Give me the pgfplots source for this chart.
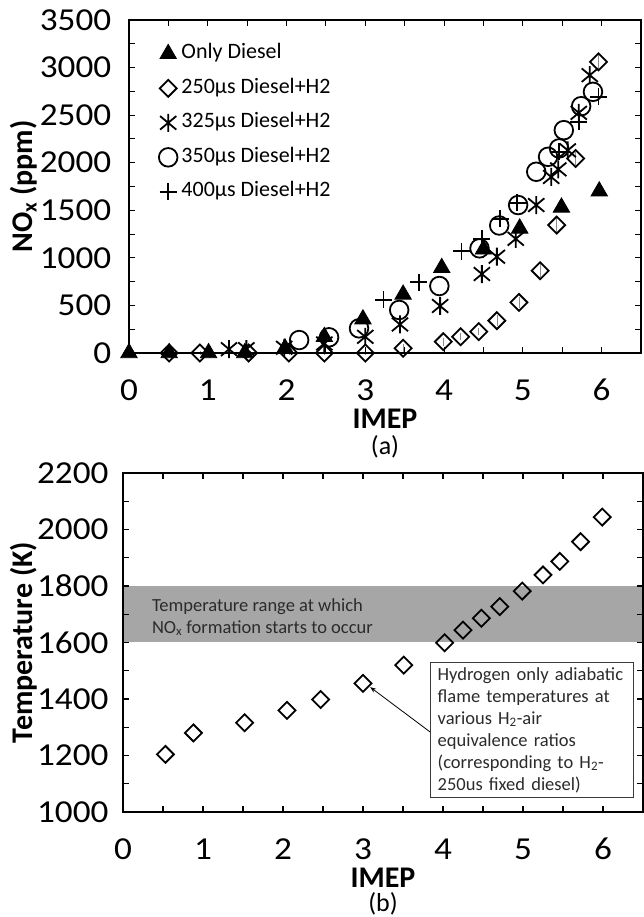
\documentclass[border=0pt]{standalone}
\usepackage{fontspec}
\setmainfont{Carlito}
\usepackage{pgfplots}
\pgfplotsset{compat=1.18}
\usetikzlibrary{arrows.meta}

\definecolor{bandgray}{HTML}{A6A6A6}
\definecolor{ebargray}{HTML}{8C8C8C}
\definecolor{notegray}{HTML}{2B2B2B}
\definecolor{boxgray}{HTML}{3A3A3A}

\newcommand\tickfont{\fontsize{32}{34}\selectfont}
\newcommand\labfont{\fontsize{30}{32}\selectfont\bfseries}
\newcommand\capfont{\fontsize{26}{28}\selectfont}
\newcommand\legfont{\fontsize{22}{24}\selectfont}
\newcommand\notefont{\fontsize{18.5}{22}\selectfont}

% six-armed asterisk: vertical bar plus an X
\pgfdeclareplotmark{astx}{%
  \pgfpathmoveto{\pgfqpoint{0pt}{\pgfplotmarksize}}%
  \pgfpathlineto{\pgfqpoint{0pt}{-\pgfplotmarksize}}%
  \pgfpathmoveto{\pgfqpoint{-0.9\pgfplotmarksize}{0.75\pgfplotmarksize}}%
  \pgfpathlineto{\pgfqpoint{0.9\pgfplotmarksize}{-0.75\pgfplotmarksize}}%
  \pgfpathmoveto{\pgfqpoint{-0.9\pgfplotmarksize}{-0.75\pgfplotmarksize}}%
  \pgfpathlineto{\pgfqpoint{0.9\pgfplotmarksize}{0.75\pgfplotmarksize}}%
  \pgfusepathqstroke}

\pgfplotsset{
  panel/.style={
    scale only axis, clip=false, axis on top,
    axis line style={line width=1.3pt},
    tick style={line width=1.1pt, black},
    tick align=inside, tick pos=both,
    xticklabel pos=lower, yticklabel pos=left,
    major tick length=6pt, minor tick length=6pt,
    xmin=0, xmax=6.5, xtick={0,...,6}, minor x tick num=1,
    minor y tick num=1,
    ticklabel style={font=\tickfont, xscale=1.1},
    /pgf/number format/assume math mode=true,
    /pgf/number format/1000 sep={},
    xticklabel style={anchor=center, inner sep=0pt, yshift=-37pt},
  },
  od/.style={only marks, mark=triangle*, mark size=9.5pt,
    mark options={fill=black, draw=black, line width=0.8pt}},
  d250/.style={only marks, mark=square, mark size=6pt,
    mark options={rotate=45, line width=1.8pt, draw=black, fill=none}},
  a325/.style={only marks, mark=astx, mark size=9pt,
    mark options={line width=1.8pt, draw=black}},
  c350/.style={only marks, mark=o, mark size=9.3pt,
    mark options={line width=1.8pt, draw=black}},
  p400/.style={only marks, mark=+, mark size=8.5pt,
    mark options={line width=1.8pt, draw=black}},
}

\begin{document}
\begin{tikzpicture}
\useasboundingbox (0pt,0pt) rectangle (644pt,917pt);

% ---------------- (a) NOx vs IMEP ----------------
\begin{axis}[panel,
  at={(129pt,564pt)}, anchor=south west,
  width=512pt, height=333pt,
  ymin=0, ymax=3500, ytick={0,500,...,3500},
  yticklabel style={anchor=east, inner sep=0pt, xshift=-16pt},
  legend style={at={(axis description cs:0.058,0.935)}, anchor=north west,
    draw=none, fill=none, font=\legfont, inner sep=0pt, row sep=10.5pt,
    column sep=2pt, nodes={inner sep=2pt, text height=15pt, text depth=5pt}},
  legend cell align=left,
  legend image code/.code={\draw[mark repeat=2,mark phase=2,#1]
    plot coordinates {(-9pt,0pt) (0pt,0pt) (9pt,0pt)};},
]
\addplot[od] coordinates {
  (0,0) (0.51,0) (1.01,0) (1.47,0) (1.98,50) (2.48,170) (2.97,355)
  (3.48,615) (3.97,895) (4.50,1090) (4.96,1310) (5.49,1530) (5.97,1700)};
\addlegendentry{Only Diesel}

\addplot[d250, error bars/.cd, y dir=both, y explicit,
  error bar style={ebargray, line width=0.6pt},
  error mark options={ebargray, mark size=2pt, line width=0.6pt}]
  table[x=x, y=y, y error=e] {
  x     y     e
  0.51  0     0
  0.90  0     0
  1.52  0     0
  2.03  0     0
  2.48  0     0
  3.00  0     0
  3.48  49    25
  3.99  119   20
  4.21  171   15
  4.44  224   15
  4.67  340   35
  4.95  532   40
  5.22  865   45
  5.43  1345  55
  5.67  2045  50
  5.96  3060  60
};
\addlegendentry{250µs Diesel+H2}

\addplot[a325] coordinates {
  (1.27,40) (1.49,40) (1.97,55) (2.48,100) (3.00,170) (3.44,300)
  (3.95,494) (4.48,830) (4.67,1012) (4.91,1200) (5.17,1555)
  (5.36,1850) (5.45,1930) (5.57,2130) (5.71,2524) (5.85,2920)};
\addlegendentry{325µs Diesel+H2}

\addplot[c350] coordinates {
  (2.16,136) (2.54,165) (2.92,259) (3.43,452) (3.94,704) (4.45,1100)
  (4.70,1340) (4.94,1555) (5.17,1905) (5.32,2062) (5.46,2150)
  (5.52,2342) (5.74,2594) (5.89,2745)};
\addlegendentry{350µs Diesel+H2}

\addplot[p400] coordinates {
  (3.23,560) (3.68,745) (4.22,1070) (4.48,1200) (4.71,1410)
  (4.93,1580) (5.46,2115) (5.71,2430) (5.96,2692)};
\addlegendentry{400µs Diesel+H2}

\node[font=\labfont, rotate=90, inner sep=0pt] at (axis description cs:-0.205,0.5) {NO\textsubscript{x} (ppm)};
\node[font=\labfont, inner sep=0pt] at (axis description cs:0.5,-0.199) {IMEP};
\node[font=\capfont, inner sep=0pt] at (axis description cs:0.5,-0.283) {(a)};
\end{axis}

% ---------------- (b) Temperature vs IMEP ----------------
\begin{axis}[panel,
  at={(123pt,105pt)}, anchor=south west,
  width=520pt, height=339pt,
  ymin=1000, ymax=2200, ytick={1000,1200,...,2200},
  yticklabel style={anchor=east, inner sep=0pt, xshift=-13pt},
]
% NOx onset temperature band
\addplot[draw=none, fill=bandgray] coordinates {
  (0,1600) (6.5,1600) (6.5,1800) (0,1800)} -- cycle;

\addplot[d250] coordinates {
  (0.53,1204) (0.88,1280) (1.52,1316) (2.05,1360) (2.47,1398)
  (3.00,1455) (3.51,1520) (4.02,1599) (4.25,1644) (4.48,1686)
  (4.71,1727) (4.99,1782) (5.25,1839) (5.46,1887) (5.72,1957)
  (5.99,2044)};

\node[anchor=west, align=left, font=\notefont, text=notegray, inner sep=0pt]
  at (axis cs:0.36,1690)
  {Temperature range at which\\NO\textsubscript{x} formation starts to occur};

\node[draw=boxgray, line width=0.9pt, fill=white, anchor=north west,
  align=left, text width=189pt, inner xsep=7pt, inner ysep=5pt,
  font=\notefont, text=notegray]
  at (axis cs:3.84,1531)
  {Hydrogen only adiabatic\\flame temperatures at\\various H\textsubscript{2}-air\\equivalence ratios\\(corresponding to H\textsubscript{2}-\\250us fixed diesel)};

\draw[line width=0.8pt, -{Stealth[length=6pt, width=4.5pt]}]
  (axis cs:3.84,1283) -- (axis cs:3.09,1442);

\node[font=\labfont, rotate=90, inner sep=0pt] at (axis description cs:-0.19,0.5) {Temperature (K)};
\node[font=\labfont, inner sep=0pt] at (axis description cs:0.5,-0.193) {IMEP};
\node[font=\capfont, inner sep=0pt] at (axis description cs:0.5,-0.272) {(b)};
\end{axis}
\end{tikzpicture}
\end{document}
